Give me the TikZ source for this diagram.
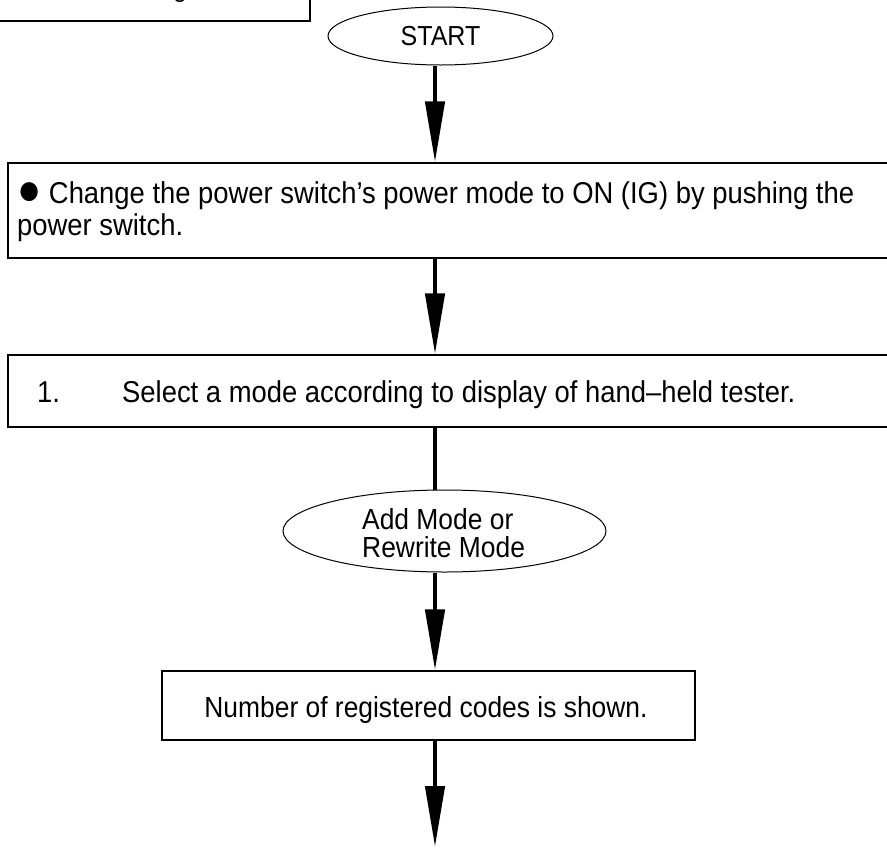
\documentclass[tikz,border=0pt]{standalone}
\usepackage{fontspec}
\setmainfont{Liberation Sans}
\usetikzlibrary{shapes.geometric,arrows.meta}
\newcommand{\tallt}[1]{\scalebox{1}[1.1]{#1}}
\tikzset{
  boxst/.style={draw=black, line width=1.3pt, rectangle, inner sep=0pt},
  ovalst/.style={draw=black, line width=1pt, ellipse, inner sep=0pt},
  shaft/.style={line width=4.5pt, black},
  arr/.style={shaft, -{Triangle[width=19pt,length=61pt]}},
  bigtext/.style={font=\fontsize{27.4}{32}\selectfont, inner sep=0pt},
  midtext/.style={font=\fontsize{26.4}{25.5}\selectfont, inner sep=0pt}
}
\begin{document}
\begin{tikzpicture}[x=1pt,y=-1pt]
\useasboundingbox (0,0) rectangle (887,847);
\fill[white] (0,0) rectangle (887,847);
% partial header box at the top left
\node[boxst, minimum width=340pt, minimum height=61pt] (hdr) at (140,-9.5) {};
\node[font=\fontsize{24}{28}\selectfont, anchor=base, inner sep=0pt] (hdrtext) at (180,-3) {g};
\coordinate (ax) at (435,0);
% START
\node[ovalst, minimum width=225pt, minimum height=58pt, font=\fontsize{25}{28}\selectfont] (start) at (440.5,36) {\tallt{START}};
% box 1
\node[boxst, minimum width=892pt, minimum height=95pt] (b1) at (454,210.5) {};
\node[bigtext, anchor=base west] (t1a) at (17,203) {\tallt{{\fontsize{40}{32}\selectfont\raisebox{-1.5pt}{●}} Change the power switch’s power mode to ON (IG) by pushing the}};
\node[bigtext, anchor=base west] (t1b) at (17,235) {\tallt{power switch.}};
% box 2
\node[boxst, minimum width=892pt, minimum height=72pt] (b2) at (454,391) {};
\node[bigtext, anchor=base west] (t2) at (37,402) {\tallt{\makebox[85pt][l]{1.}Select a mode according to display of hand–held tester.}};
% ellipse 2
\node[ovalst, minimum width=323pt, minimum height=82pt] (mode) at (444.5,531) {};
\node[midtext, anchor=base west] (modea) at (362,529) {\tallt{Add Mode or}};
\node[midtext, anchor=base west] (modeb) at (362,557) {\tallt{Rewrite Mode}};
% box 3
\node[boxst, minimum width=533pt, minimum height=69pt] (b3) at (428.5,705.5) {};
\node[midtext, anchor=base] (t3) at (426,717) {\tallt{Number of registered codes is shown.}};
\coordinate (endc) at (435,847);
% connectors
\draw[arr] (start.south -| ax) -- (b1.north -| ax);
\draw[arr] (b1.south -| ax) -- (b2.north -| ax);
\draw[shaft] (b2.south -| ax) -- (mode.north -| ax);
\draw[arr] (mode.south -| ax) -- (b3.north -| ax);
\draw[arr] (b3.south -| ax) -- (endc);
\end{tikzpicture}
\end{document}
